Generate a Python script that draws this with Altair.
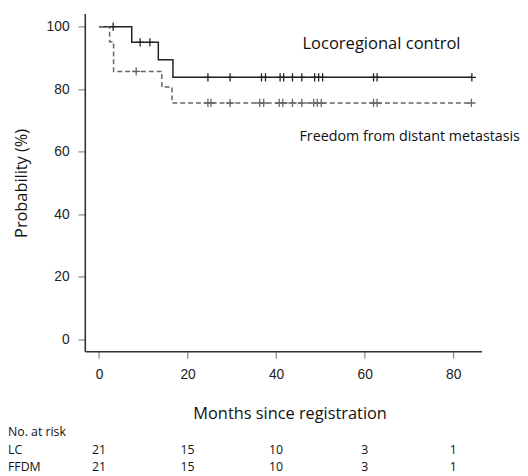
import altair as alt
import pandas as pd
import numpy as np

# Kaplan-Meier step curves (months, %)
lc_time = [0, 7.4, 13.4, 16.7, 84.2]
lc_surv = [100, 95.0, 89.4, 83.8, 83.8]
lc_cens = [3.2, 9.3, 11.5, 24.6, 29.6, 36.7, 37.6, 40.9, 41.7, 43.7, 45.8,
           48.7, 49.6, 50.5, 62.0, 62.8, 84.2]

ffdm_time = [0, 2.4, 3.3, 14.2, 16.5, 84.1]
ffdm_surv = [100, 95.2, 85.7, 80.7, 75.6, 75.6]
ffdm_cens = [8.4, 24.6, 25.3, 29.6, 36.3, 37.2, 40.7, 41.5, 43.7, 45.8,
             48.5, 49.3, 50.2, 62.0, 62.8, 84.1]

risk_times = [0, 20, 40, 60, 80]
lc_risk = [21, 15, 10, 3, 1]
ffdm_risk = [21, 15, 10, 3, 1]
row_labels = ["No. at risk", "LC", "FFDM"]


def step_value(times, surv, t):
    i = np.searchsorted(np.array(times), t, side="right") - 1
    return surv[max(i, 0)]


lc_df = pd.DataFrame({"t": lc_time, "s": lc_surv})
ffdm_df = pd.DataFrame({"t": ffdm_time, "s": ffdm_surv})
lc_c = pd.DataFrame({"t": lc_cens, "s": [step_value(lc_time, lc_surv, t) for t in lc_cens]})
ffdm_c = pd.DataFrame({"t": ffdm_cens, "s": [step_value(ffdm_time, ffdm_surv, t) for t in ffdm_cens]})
risk_lc = pd.DataFrame({"t": risk_times, "n": lc_risk})
risk_ffdm = pd.DataFrame({"t": risk_times, "n": ffdm_risk})

W, H = 403, 343
LAB = "Liberation Sans"
TXT = "Open Sans"
ROW_Y = [425, 443, 461]

xs = alt.Scale(domain=[-3.2, 86.4], nice=False, zero=False)
ys = alt.Scale(domain=[-3.8, 104.2], nice=False, zero=False)

xaxis = alt.Axis(values=[0, 20, 40, 60, 80], title="Months since registration",
                 titleX=208, titleY=63, titleAnchor="middle", titleBaseline="middle",
                 titleFont=TXT, titleFontSize=16.6, titleFontWeight="normal", titleColor="#111",
                 labelFont=LAB, labelFontSize=14, labelColor="#222", labelPadding=10,
                 tickSize=7, tickColor="#888", tickWidth=1.2,
                 domainColor="#333", domainWidth=1.6, grid=False)
yaxis = alt.Axis(values=[0, 20, 40, 60, 80, 100], title="Probability (%)",
                 titleX=-64, titleY=172, titleAngle=-90, titleAlign="center",
                 titleBaseline="middle",
                 titleFont=TXT, titleFontSize=16.6, titleFontWeight="normal", titleColor="#111",
                 labelFont=LAB, labelFontSize=14, labelColor="#222", labelPadding=9,
                 tickSize=7, tickColor="#888", tickWidth=1.2,
                 domainColor="#333", domainWidth=1.6, grid=False)

plus = "M-1,0H1M0,-1V1"

lc_line = alt.Chart(lc_df).mark_line(interpolate="step-after", color="#222", strokeWidth=1.5).encode(
    x=alt.X("t:Q", scale=xs, axis=xaxis), y=alt.Y("s:Q", scale=ys, axis=yaxis))
ffdm_line = alt.Chart(ffdm_df).mark_line(interpolate="step-after", color="#666", strokeWidth=1.5,
                                         strokeDash=[5, 3]).encode(
    x=alt.X("t:Q", scale=xs), y=alt.Y("s:Q", scale=ys))
lc_pts = alt.Chart(lc_c).mark_point(shape=plus, size=70, filled=False, color="#222",
                                    strokeWidth=1.3, opacity=1).encode(
    x=alt.X("t:Q", scale=xs), y=alt.Y("s:Q", scale=ys))
ffdm_pts = alt.Chart(ffdm_c).mark_point(shape=plus, size=70, filled=False, color="#666",
                                        strokeWidth=1.3, opacity=1).encode(
    x=alt.X("t:Q", scale=xs), y=alt.Y("s:Q", scale=ys))

lab_lc = alt.Chart(pd.DataFrame({"l": ["Locoregional control"]})).mark_text(
    font=TXT, fontSize=16.8, align="left", baseline="middle", color="#111").encode(
    text="l:N", x=alt.value(221), y=alt.value(31))
lab_ffdm = alt.Chart(pd.DataFrame({"l": ["Freedom from distant metastasis"]})).mark_text(
    font=TXT, fontSize=14.5, align="left", baseline="middle", color="#111").encode(
    text="l:N", x=alt.value(218), y=alt.value(125))

tab_font = dict(font=TXT, fontSize=12.5, baseline="middle", color="#111")
heads = []
for lab, yy in zip(row_labels, ROW_Y):
    heads.append(alt.Chart(pd.DataFrame({"l": [lab]})).mark_text(align="left", **tab_font).encode(
        text="l:N", x=alt.value(-78), y=alt.value(yy)))
risk_lc_t = alt.Chart(risk_lc).mark_text(align="center", **tab_font).encode(
    text="n:Q", x=alt.X("t:Q", scale=xs), y=alt.value(ROW_Y[1]))
risk_ffdm_t = alt.Chart(risk_ffdm).mark_text(align="center", **tab_font).encode(
    text="n:Q", x=alt.X("t:Q", scale=xs), y=alt.value(ROW_Y[2]))

chart = alt.layer(lc_line, ffdm_line, lc_pts, ffdm_pts, lab_lc, lab_ffdm,
                  *heads, risk_lc_t, risk_ffdm_t).properties(
    width=W, height=H,
    autosize=alt.AutoSizeParams(type="none"),
    padding={"left": 78, "top": 2, "right": 39, "bottom": 121},
).configure_view(stroke=None)

chart.save("out.html", embed_options={"renderer": "svg", "actions": False})
